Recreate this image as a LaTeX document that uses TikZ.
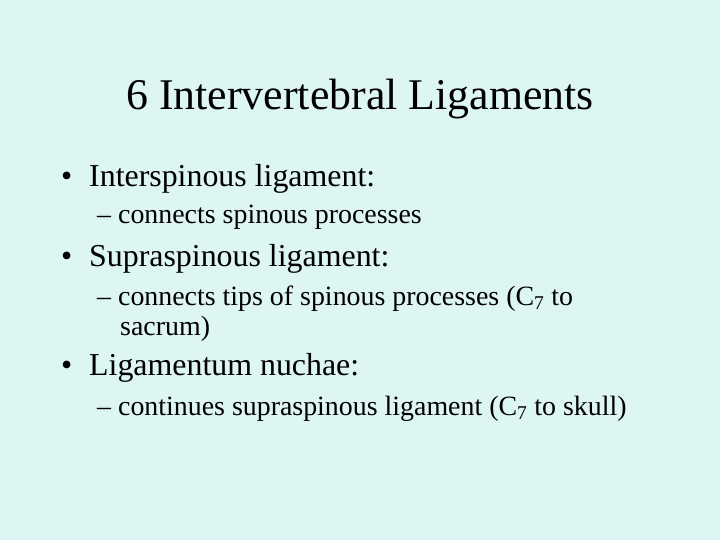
\documentclass[tikz,border=0pt]{standalone}
\usepackage{fontspec}
\setmainfont{Liberation Serif}
\definecolor{bg}{HTML}{DDF5F3}
\begin{document}
\begin{tikzpicture}[x=1bp,y=-1bp,
  title/.style={anchor=base,font=\fontsize{44}{48}\selectfont,inner sep=0},
  lvl/.style={anchor=base west,font=\fontsize{32}{36}\selectfont,inner sep=0},
  sub/.style={anchor=base west,font=\fontsize{28}{32}\selectfont,inner sep=0}]
\fill[bg] (0,0) rectangle (720,540);
\useasboundingbox (0,0) rectangle (720,540);
\node[title] (t) at (360,110) {6 Intervertebral Ligaments};
\node[lvl] (b1) at (61,187) {•};
\node[lvl] (a1) at (89,187) {Interspinous ligament:};
\node[sub] (s1) at (97,224) {– connects spinous processes};
\node[lvl] (b2) at (61,267) {•};
\node[lvl] (a2) at (89,267) {Supraspinous ligament:};
\node[sub] (s2) at (97,305) {– connects tips of spinous processes (C\textsubscript{7} to};
\node[sub] (s2b) at (120,335) {sacrum)};
\node[lvl] (b3) at (61,375) {•};
\node[lvl] (a3) at (89,375) {Ligamentum nuchae:};
\node[sub] (s3) at (97,415) {– continues supraspinous ligament (C\textsubscript{7} to skull)};
\end{tikzpicture}
\end{document}
